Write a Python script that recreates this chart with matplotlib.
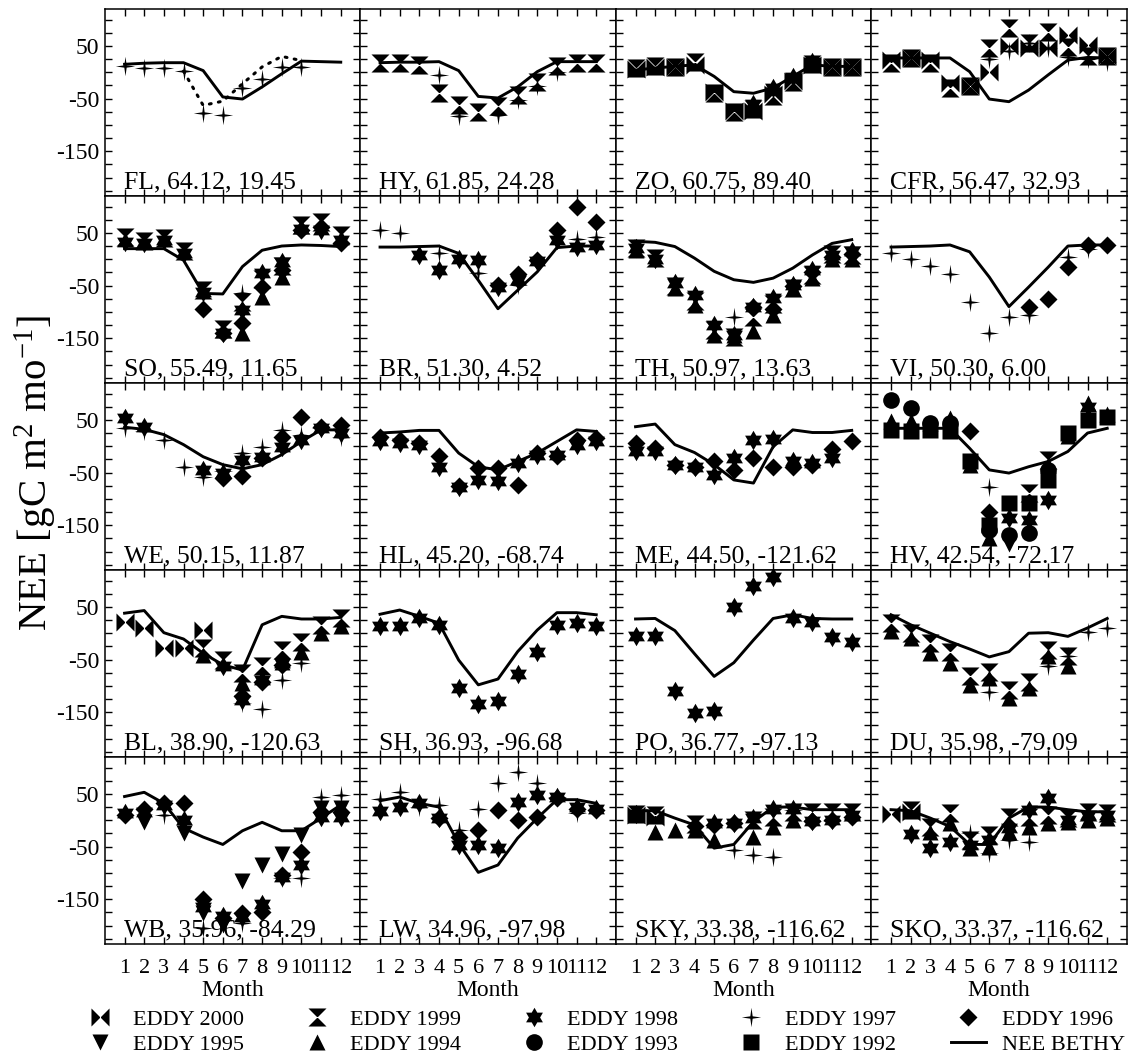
import numpy as np
import matplotlib
matplotlib.use("Agg")
import matplotlib.pyplot as plt
from matplotlib.lines import Line2D

plt.rcParams['font.family'] = ['Liberation Serif', 'DejaVu Serif']
plt.rcParams['mathtext.fontset'] = 'custom'
plt.rcParams['mathtext.rm'] = 'Liberation Serif'
plt.rcParams['mathtext.it'] = 'Liberation Serif:italic'
plt.rcParams['axes.unicode_minus'] = False

N = np.nan
months = list(range(1, 13))
month_labels = [str(m) for m in months]
years = [2000, 1999, 1998, 1997, 1996, 1995, 1994, 1993, 1992]

# --- site values, gC m^2 mo^-1 ---
fl_bethy = [15, 17, 18, 18, 3, -47, -51, -28, -3, 21, 20, 19]
fl_dotted = [N, N, N, 2, -63, -55, -22, 10, 30, 22, N, N]
fl_e1997 = [12, 8, 8, 3, -78, -81, -30, -13, 9, 9, N, N]

hy_bethy = [18, 19, 19, 20, 3, -46, -49, -28, 1, 20, 20, 20]
hy_e1999 = [17, 17, 14, -40, -62, -75, -65, -43, -18, 11, 17, 17]
hy_e1997 = [N, N, N, -5, -84, N, -81, -53, -27, 1, N, N]

zo_bethy = [4, 8, 11, 14, -8, -37, -40, -30, -8, 14, 11, 11]
zo_e2000 = [6, 9, 9, 14, -37, -73, -73, -42, -16, 14, 9, 9]
zo_e1999 = [8, 12, 10, 20, -40, -75, -70, -46, -18, 16, 10, 10]
zo_e1998 = [N, N, N, N, N, N, -60, -30, -10, 20, N, N]

cfr_bethy = [27, 27, 27, 27, 1, -51, -56, -34, -5, 23, 28, 27]
cfr_e2000 = [23, 27, 23, -20, -27, 1, 49, 46, 46, 71, 52, 30]
cfr_e1999 = [18, 27, 18, -30, -27, 45, 83, 55, 77, 48, 30, 30]
cfr_e1997 = [N, N, N, N, N, 25, 40, 55, 45, 28, 25, 20]

so_bethy = [20, 20, 20, -2, -65, -66, -14, 17, 25, 27, 26, 24]
so_e1999 = [42, 35, 40, 16, -59, -132, -82, -38, -13, 65, 70, 45]
so_e1998 = [33, 30, 36, 11, -62, -141, -97, -27, -5, 58, 55, 36]
so_e1996 = [N, N, N, N, -94, -141, -122, -53, -21, 55, 61, 30]
so_e1994 = [N, N, N, N, N, N, -141, -71, -34, N, N, N]
so_e1997 = [N, N, N, N, N, N, -65, N, N, N, N, N]

br_bethy = [23, 23, 24, 25, 11, -40, -94, -59, -24, 22, 25, 25]
br_e1997 = [55, 49, N, 11, N, -27, N, -49, N, N, 39, 42]
br_e1998 = [N, N, 8, -21, 1, -2, -53, -39, -3, 36, 23, 27]
br_e1996 = [N, N, N, N, N, N, -49, -28, -2, 55, 99, 71]

th_bethy = [34, 32, 24, 2, -23, -39, -44, -36, -17, 8, 30, 37]
th_e1999 = [22, 3, -50, -80, -135, -147, -110, -85, -55, -30, 10, 8]
th_e1998 = [21, 0, -46, -68, -125, -144, -90, -74, -49, -20, 8, 15]
th_e1996 = [N, N, N, N, N, N, -90, -95, -50, -25, 5, 10]
th_e1997 = [N, N, N, N, N, -109, N, N, N, N, N, N]
th_e1994 = [18, N, -55, -87, -144, -144, -137, -106, -55, -35, 0, 0]

vi_bethy = [23, 24, 25, 27, 14, -34, -90, -53, -15, 25, 27, 27]
vi_e1997 = [12, 1, -13, -28, -81, -141, -109, -106, N, 4, 20, N]
vi_e1996 = [N, N, N, N, N, N, N, -90, -75, -15, 27, 27]

we_bethy = [36, 32, 22, 3, -20, -35, -43, -35, -16, 9, 31, 31]
we_e1998 = [53, 37, N, N, -45, -51, -26, -20, -1, 12, 34, 25]
we_e1996 = [N, N, N, N, N, -61, -56, -23, 18, 56, 36, 40]
we_e1997 = [34, 28, 11, -39, -58, -48, -13, -1, 31, 22, 34, 18]

hl_bethy = [25, 27, 30, 30, -13, -39, -45, -29, -13, 9, 31, 28]
hl_e1998 = [9, 6, 3, -39, -77, -64, -67, -32, -16, -16, 3, 9]
hl_e1996 = [18, 11, 6, -18, -75, -42, -42, -73, -13, -18, 12, 15]

me_bethy = [37, 42, 3, -12, -35, -64, -70, -1, 31, 26, 26, 30]
me_e1996 = [7, -4, -35, -40, -29, -45, -23, -40, -40, -35, -6, 9]
me_e1998 = [-10, -10, -35, -40, -54, -23, 12, 13, -29, -32, -23, N]

hv_bethy = [34, 34, 34, 34, -4, -45, -51, -39, -29, -10, 25, 34]
hv_e1999 = [N, N, N, N, N, N, N, -88, -26, N, N, N]
hv_e1998 = [N, N, N, N, N, N, -137, -140, -102, N, 75, N]
hv_e1997 = [N, N, N, N, N, -77, N, N, N, N, N, N]
hv_e1996 = [N, N, N, N, 28, -125, N, N, N, N, N, N]
hv_e1995 = [N, N, N, N, N, N, -185, N, N, N, N, N]
hv_e1994 = [47, 47, 44, 53, -35, -175, N, N, -35, 20, 82, 62]
hv_e1993 = [88, 72, 44, 44, N, -160, -168, -165, -45, N, N, N]
hv_e1992 = [31, 28, 31, 28, -29, -150, -108, -108, -64, 25, 50, 56]

bl_bethy = [38, 43, 1, -11, -38, -60, -70, 16, 32, 27, 27, 30]
bl_e2000 = [21, 10, -28, -28, 6, N, N, N, N, N, N, N]
bl_e1999 = [N, N, N, N, -28, -51, -76, -63, -32, -16, 16, 28]
bl_e1998 = [N, N, N, N, N, -63, -127, -89, -57, N, N, N]
bl_e1997 = [N, N, N, N, N, N, -133, -144, -89, -57, N, N]
bl_e1996 = [N, N, N, N, N, N, -120, -92, -60, N, N, N]
bl_e1994 = [N, N, N, N, -41, N, -95, N, -54, -35, 0, 13]

sh_bethy = [36, 44, 32, 19, -51, -98, -87, -35, 6, 39, 39, 35]
sh_e1998 = [13, 13, 28, 16, -104, -135, -128, -77, -35, 16, 19, 13]

po_bethy = [27, 28, 5, -39, -82, -56, -13, 28, 35, 28, 27, 27]
po_e1998 = [-5, -6, -109, -152, -147, 49, 89, 106, 28, 22, -8, -16]

du_bethy = [35, 16, 0, -16, -30, -45, -35, 0, 1, -6, 10, 28]
du_e1999 = [19, 0, -19, -35, -82, -73, -108, -92, -32, -44, N, N]
du_e1997 = [N, N, N, N, N, -111, N, N, -62, -44, 3, 10]
du_e1994 = [5, -9, -38, -57, -98, -85, -123, -104, -44, -62, N, N]

wb_bethy = [45, 53, 32, -15, -32, -46, -20, -4, -20, -20, 4, 29]
wb_e1998 = [13, 16, 29, 1, -164, -182, -183, -159, -107, -85, 7, 7]
wb_e1997 = [N, N, 10, N, -205, -189, -196, N, -110, -110, 45, 48]
wb_e1996 = [10, 21, 32, 32, -150, -186, -177, -175, -104, -61, 16, 16]
wb_e1995 = [N, -3, N, -25, -177, -199, -115, -85, -64, -28, 23, 23]

lw_bethy = [37, 44, 32, 25, -44, -99, -85, -34, 4, 39, 39, 32]
lw_e1998 = [18, 25, 32, 4, -47, -47, -53, 35, 48, 45, 26, 21]
lw_e1997 = [40, 54, 26, 29, -18, 21, 70, 92, 70, 45, 13, N]
lw_e1996 = [N, N, N, 4, -32, -18, 20, 1, 7, 42, 21, 20]

sky_bethy = [18, 18, 4, -9, -53, -46, -3, 25, 25, 20, 20, 20]
sky_e2000 = [10, 7, N, N, N, N, N, N, N, N, N, N]
sky_e1999 = [12, 10, N, -8, N, N, 1, 7, 16, 16, 16, 16]
sky_e1998 = [12, N, N, N, -6, -6, 5, 21, 21, -1, 1, 10]
sky_e1997 = [N, N, N, N, N, -56, -66, -70, 20, N, N, N]
sky_e1996 = [N, N, N, -11, -9, -6, N, N, N, -1, 1, 7]
sky_e1994 = [N, -22, -18, -18, -37, N, -32, -12, 1, N, N, N]

sko_bethy = [20, 18, 4, -12, -46, -46, 4, 25, 25, 20, 16, 16]
sko_e2000 = [12, 16, N, N, N, N, N, N, N, N, N, N]
sko_e1999 = [N, 20, -12, 13, -37, -28, 7, 7, 10, 4, 16, 13]
sko_e1998 = [N, -27, -53, -41, -47, -37, -15, 20, 42, 1, 10, 10]
sko_e1997 = [N, N, N, N, -25, -63, -37, -41, N, N, N, N]
sko_e1994 = [N, N, -22, -6, -53, -50, -22, -12, -6, -3, 1, 4]

sites = [
    ("FL, 64.12, 19.45", fl_bethy, {1997: fl_e1997}),
    ("HY, 61.85, 24.28", hy_bethy, {1999: hy_e1999, 1997: hy_e1997}),
    ("ZO, 60.75, 89.40", zo_bethy, {2000: zo_e2000, 1999: zo_e1999, 1998: zo_e1998}),
    ("CFR, 56.47, 32.93", cfr_bethy, {2000: cfr_e2000, 1999: cfr_e1999, 1997: cfr_e1997}),
    ("SO, 55.49, 11.65", so_bethy, {1999: so_e1999, 1998: so_e1998, 1997: so_e1997,
                                   1996: so_e1996, 1994: so_e1994}),
    ("BR, 51.30, 4.52", br_bethy, {1998: br_e1998, 1997: br_e1997, 1996: br_e1996}),
    ("TH, 50.97, 13.63", th_bethy, {1999: th_e1999, 1998: th_e1998, 1997: th_e1997,
                                   1996: th_e1996, 1994: th_e1994}),
    ("VI, 50.30, 6.00", vi_bethy, {1997: vi_e1997, 1996: vi_e1996}),
    ("WE, 50.15, 11.87", we_bethy, {1998: we_e1998, 1997: we_e1997, 1996: we_e1996}),
    ("HL, 45.20, -68.74", hl_bethy, {1998: hl_e1998, 1996: hl_e1996}),
    ("ME, 44.50, -121.62", me_bethy, {1998: me_e1998, 1996: me_e1996}),
    ("HV, 42.54, -72.17", hv_bethy, {1999: hv_e1999, 1998: hv_e1998, 1997: hv_e1997,
                                    1996: hv_e1996, 1995: hv_e1995, 1994: hv_e1994,
                                    1993: hv_e1993, 1992: hv_e1992}),
    ("BL, 38.90, -120.63", bl_bethy, {2000: bl_e2000, 1999: bl_e1999, 1998: bl_e1998,
                                     1997: bl_e1997, 1996: bl_e1996, 1994: bl_e1994}),
    ("SH, 36.93, -96.68", sh_bethy, {1998: sh_e1998}),
    ("PO, 36.77, -97.13", po_bethy, {1998: po_e1998}),
    ("DU, 35.98, -79.09", du_bethy, {1999: du_e1999, 1997: du_e1997, 1994: du_e1994}),
    ("WB, 35.96, -84.29", wb_bethy, {1998: wb_e1998, 1997: wb_e1997, 1996: wb_e1996,
                                    1995: wb_e1995}),
    ("LW, 34.96, -97.98", lw_bethy, {1998: lw_e1998, 1997: lw_e1997, 1996: lw_e1996}),
    ("SKY, 33.38, -116.62", sky_bethy, {2000: sky_e2000, 1999: sky_e1999, 1998: sky_e1998,
                                       1997: sky_e1997, 1996: sky_e1996, 1994: sky_e1994}),
    ("SKO, 33.37, -116.62", sko_bethy, {2000: sko_e2000, 1999: sko_e1999, 1998: sko_e1998,
                                       1997: sko_e1997, 1994: sko_e1994}),
]

# marker shapes
bowtie = [(-1, -1), (1, 1), (1, -1), (-1, 1), (-1, -1)]
hourglass = [(-1, 1), (1, 1), (-1, -1), (1, -1), (-1, 1)]
ang6 = np.deg2rad(90 + 30 * np.arange(12))
rad6 = np.where(np.arange(12) % 2 == 0, 1.0, 1 / np.sqrt(3))
hexagram = list(zip(rad6 * np.cos(ang6), rad6 * np.sin(ang6)))
ang4 = np.deg2rad(90 + 45 * np.arange(8))
rad4 = np.where(np.arange(8) % 2 == 0, 1.0, 0.17)
spark = list(zip(rad4 * np.cos(ang4), rad4 * np.sin(ang4)))

styles = {
    2000: dict(marker=bowtie, ms=13),
    1999: dict(marker=hourglass, ms=13),
    1998: dict(marker=hexagram, ms=14),
    1997: dict(marker=spark, ms=14),
    1996: dict(marker='D', ms=9.5),
    1995: dict(marker='v', ms=11.5),
    1994: dict(marker='^', ms=11.5),
    1993: dict(marker='o', ms=12),
    1992: dict(marker='s', ms=12),
}

fig, axes = plt.subplots(5, 4, figsize=(11.28, 10.55), dpi=100, sharex=True, sharey=True)
fig.subplots_adjust(left=0.093, right=0.999, top=0.9915, bottom=0.1052, wspace=0, hspace=0)

for i, (label, bethy, eddy) in enumerate(sites):
    ax = axes[i // 4, i % 4]
    for yr in years:
        if yr in eddy:
            ax.plot(months, eddy[yr], ls='none', color='black', mec='none', **styles[yr])
    ax.plot(months, bethy, color='black', lw=2.1, zorder=5)
    if i == 0:
        ax.plot(months, fl_dotted, color='black', lw=2.2, ls=(0, (0.6, 2.4)),
                dash_capstyle='round', zorder=5)
    ax.text(0.95, -221, label, fontsize=18.5, ha='left', va='baseline')
    ax.set_xlim(0, 13)
    ax.set_ylim(-235, 120)
    ax.set_xticks(months)
    ax.set_xticklabels(month_labels)
    ax.set_yticks([50, -50, -150])
    ax.set_yticks(np.arange(-225, 120, 25), minor=True)
    ax.tick_params(which='both', direction='in', top=True, right=True, length=5,
                   width=1, labelsize=17, pad=4)
    ax.tick_params(axis='x', pad=11, labelsize=16)
    for s in ax.spines.values():
        s.set_linewidth(1.1)
    if i // 4 == 4:
        ax.set_xlabel("Month", fontsize=17, labelpad=1)

fig.text(0.032, 0.552, "NEE [gC m$^{2}$ mo$^{-1}$]", rotation=90, fontsize=29.5,
         ha='center', va='center')

handles = []
labels = []
order = [2000, 1995, 1999, 1994, 1998, 1993, 1997, 1992, 1996]
for yr in order:
    handles.append(Line2D([], [], ls='none', color='black', mec='none', **styles[yr]))
    labels.append("EDDY %d" % yr)
handles.append(Line2D([], [], color='black', lw=2.1))
labels.append("NEE BETHY")

fig.legend(handles, labels, ncol=5, loc='lower left', bbox_to_anchor=(0.065, -0.008, 0.94, 0.03),
           mode='expand', frameon=False, fontsize=16, handlelength=1.6, handletextpad=0.7,
           labelspacing=0.2, borderaxespad=0.0)

fig.savefig("out.png", dpi=100)
